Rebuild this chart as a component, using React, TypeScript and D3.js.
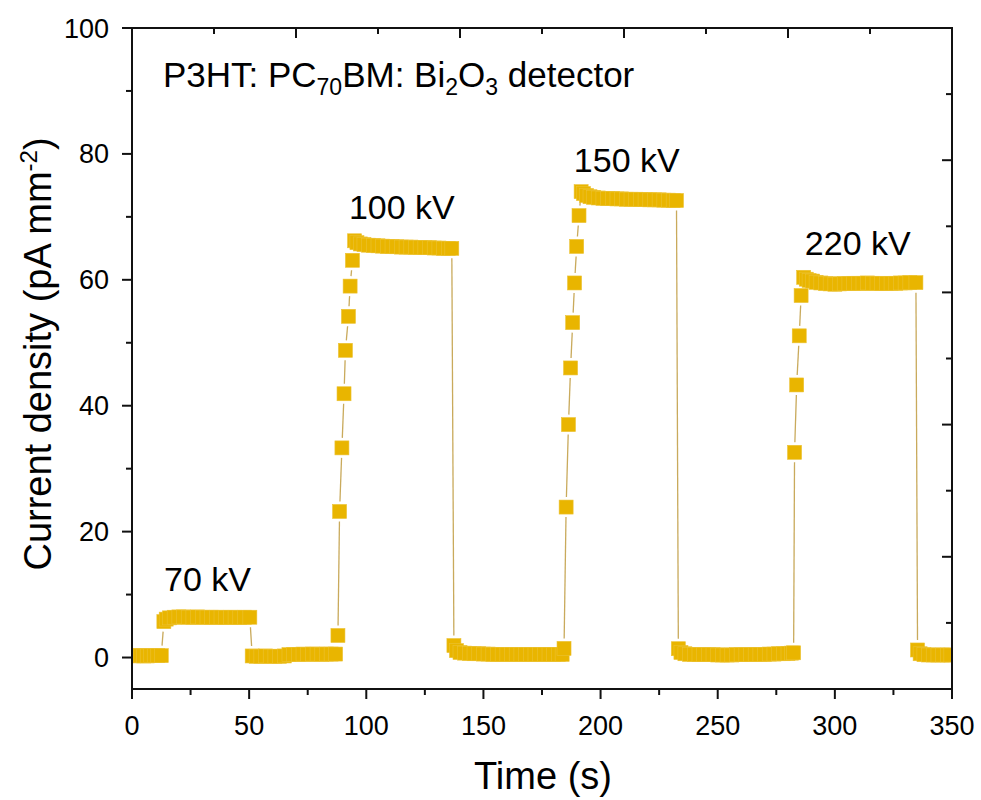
import React from 'react';
import * as d3 from 'd3';

// ---- data (time in s, current density in pA mm^-2) ----
const time = [
  0.5, 2, 3.5, 5, 6.5, 8, 9.5, 11, 12.5,
  13.6, 14.6, 16, 18, 20, 22, 24, 26, 28, 30, 32, 34, 36, 38, 40, 42, 44, 46, 48, 50.3,
  51.3, 53, 55, 57, 59, 61, 63, 65, 67, 69, 71, 73, 75, 77, 79, 81, 83, 85, 86.9,
  87.9, 88.6, 89.6, 90.5, 91.1, 92.4, 93.1, 94.1, 95.0,
  96, 97.5, 99, 101, 103, 105, 107, 109, 111, 113, 115, 117, 119, 121, 123, 125, 127, 129, 131, 133, 135, 136.5,
  137.4, 138.5, 140, 142, 144, 146, 148, 150, 152, 154, 156, 158, 160, 162, 164, 166, 168, 170, 172, 174, 176, 178, 180, 182, 183.6, 184.4,
  185.3, 186.3, 187.2, 188.1, 188.9, 189.8, 190.8, 191.7,
  192.7, 194, 195.5, 197, 199, 201, 203, 205, 207, 209, 211, 213, 215, 217, 219, 221, 223, 225, 227, 229, 231, 232.4,
  233.2, 234.3, 236, 238, 240, 242, 244, 246, 248, 250, 252, 254, 256, 258, 260, 262, 264, 266, 268, 270, 272, 274, 276, 278, 280, 281.5, 282.4,
  282.8, 283.7, 284.8, 285.6, 286.7,
  287.8, 289, 290.5, 292, 294, 296, 298, 300, 302, 304, 306, 308, 310, 312, 314, 316, 318, 320, 322, 324, 326, 328, 330, 332, 334.6,
  335.3, 336.4, 338, 340, 342, 344, 346, 348, 349.5,
];
const current = [
  0.25, 0.3, 0.3, 0.25, 0.25, 0.3, 0.3, 0.3, 0.3,
  5.7, 6.1, 6.3, 6.4, 6.45, 6.45, 6.4, 6.4, 6.45, 6.4, 6.4, 6.4, 6.4, 6.4, 6.35, 6.4, 6.4, 6.35, 6.4, 6.4,
  0.25, 0.2, 0.2, 0.25, 0.2, 0.2, 0.2, 0.25, 0.45, 0.5, 0.5, 0.55, 0.5, 0.55, 0.55, 0.5, 0.55, 0.55, 0.55,
  3.5, 23.2, 33.3, 41.9, 48.8, 54.2, 59.0, 63.1, 66.2,
  65.9, 65.7, 65.6, 65.5, 65.45, 65.4, 65.35, 65.3, 65.3, 65.25, 65.2, 65.2, 65.2, 65.15, 65.15, 65.1, 65.1, 65.05, 65.05, 65.0, 65.0, 65.0,
  1.9, 1.1, 0.8, 0.7, 0.65, 0.6, 0.6, 0.55, 0.55, 0.5, 0.5, 0.5, 0.5, 0.5, 0.5, 0.5, 0.5, 0.5, 0.5, 0.5, 0.5, 0.5, 0.5, 0.5, 0.5, 1.45,
  23.9, 37.0, 46.0, 53.2, 59.5, 65.3, 70.2, 74.0,
  73.7, 73.4, 73.2, 73.1, 73.0, 72.95, 72.9, 72.9, 72.85, 72.85, 72.8, 72.8, 72.8, 72.75, 72.75, 72.7, 72.7, 72.7, 72.65, 72.65, 72.6, 72.6,
  1.4, 0.8, 0.6, 0.5, 0.5, 0.45, 0.45, 0.45, 0.45, 0.4, 0.4, 0.4, 0.4, 0.45, 0.45, 0.45, 0.45, 0.5, 0.5, 0.5, 0.55, 0.55, 0.6, 0.6, 0.65, 0.7, 0.75,
  32.6, 43.3, 51.1, 57.5, 60.4,
  60.1, 59.9, 59.8, 59.6, 59.5, 59.4, 59.35, 59.3, 59.35, 59.4, 59.4, 59.45, 59.45, 59.45, 59.5, 59.45, 59.45, 59.4, 59.4, 59.45, 59.45, 59.5, 59.5, 59.55, 59.55,
  1.2, 0.6, 0.45, 0.4, 0.4, 0.4, 0.4, 0.4, 0.4,
];

const xMajorTicks = [0, 50, 100, 150, 200, 250, 300, 350];
const xMinorTicks = [25, 75, 125, 175, 225, 275, 325];
const yMajorTicks = [0, 20, 40, 60, 80, 100];
const yMinorTicks = [10, 30, 50, 70, 90];
const topMajorTicks = [70, 140, 210, 280];
const topMinorTicks = [35, 105, 175, 245, 315];
const rightMajorTicks = [20, 40, 60, 80];
const rightMinorTicks = [10, 30, 50, 70, 90];

const peakLabels = ['70 kV', '100 kV', '150 kV', '220 kV'];
const peakLabelT = [13.7, 92.6, 188.6, 287.2];
const peakLabelV = [10.6, 69.7, 77.2, 63.9];

const FONT = "'Liberation Sans', Arial, sans-serif";

export default function App() {
  const W = 981, H = 800;
  const L = 132, R = 952, T = 28, B = 689;
  const x = d3.scaleLinear().domain([0, 350]).range([L, R]);
  const y = d3.scaleLinear().domain([-5, 100]).range([B, T]);
  const yR = d3.scaleLinear().domain([0, 100]).range([B, T]);

  const pts: [number, number][] = time.map((t, i) => [x(t), y(current[i])]);
  const gap = 10;
  const line = d3.line();
  const segs: string[] = [];
  for (let i = 0; i < pts.length - 1; i++) {
    const [x1, y1] = pts[i];
    const [x2, y2] = pts[i + 1];
    const dx = x2 - x1, dy = y2 - y1;
    const d = Math.hypot(dx, dy);
    if (d > 2 * gap + 1) {
      const ux = dx / d, uy = dy / d;
      segs.push(line([[x1 + ux * gap, y1 + uy * gap], [x2 - ux * gap, y2 - uy * gap]]) as string);
    }
  }

  const MS = 14;
  const major = 10, minor = 6;
  const axisStroke = '#111';

  return (
    <svg width={W} height={H} style={{ position: 'absolute', left: 0, top: 0, background: '#fff' }} fontFamily={FONT}>
      <rect x={0} y={0} width={W} height={H} fill="#fff" />
      <defs>
        <clipPath id="plotclip">
          <rect x={L} y={T} width={R - L} height={B - T} />
        </clipPath>
      </defs>
      <g clipPath="url(#plotclip)">
        {segs.map((p, i) => (
          <path key={'s' + i} d={p} stroke="#c9aa5c" strokeWidth={1.3} fill="none" />
        ))}
        {pts.map(([px, py], i) => (
          <rect key={'m' + i} x={px - MS / 2} y={py - MS / 2} width={MS} height={MS} fill="#e9b500" stroke="#ecc232" strokeWidth={0.6} />
        ))}
      </g>

      {/* frame */}
      <rect x={L} y={T} width={R - L} height={B - T} fill="none" stroke={axisStroke} strokeWidth={2} />

      {/* bottom ticks */}
      {xMajorTicks.map((t) => (
        <g key={'xb' + t}>
          <line x1={x(t)} x2={x(t)} y1={B} y2={B + major} stroke={axisStroke} strokeWidth={2} />
          <text x={x(t)} y={B + 46} fontSize={27} textAnchor="middle" fill="#000">{t}</text>
        </g>
      ))}
      {xMinorTicks.map((t) => (
        <line key={'xbm' + t} x1={x(t)} x2={x(t)} y1={B} y2={B + minor} stroke={axisStroke} strokeWidth={2} />
      ))}
      {/* top ticks (inward) */}
      {topMajorTicks.map((t) => (
        <line key={'xt' + t} x1={x(t)} x2={x(t)} y1={T} y2={T + major} stroke={axisStroke} strokeWidth={2} />
      ))}
      {topMinorTicks.map((t) => (
        <line key={'xtm' + t} x1={x(t)} x2={x(t)} y1={T} y2={T + minor} stroke={axisStroke} strokeWidth={2} />
      ))}
      {/* left ticks */}
      {yMajorTicks.map((v) => (
        <g key={'yl' + v}>
          <line x1={L - major} x2={L} y1={y(v)} y2={y(v)} stroke={axisStroke} strokeWidth={2} />
          <text x={L - 23} y={y(v) + 9.5} fontSize={27} textAnchor="end" fill="#000">{v}</text>
        </g>
      ))}
      {yMinorTicks.map((v) => (
        <line key={'ylm' + v} x1={L - minor} x2={L} y1={y(v)} y2={y(v)} stroke={axisStroke} strokeWidth={2} />
      ))}
      {/* right ticks (inward) */}
      {rightMajorTicks.map((v) => (
        <line key={'yr' + v} x1={R - major} x2={R} y1={yR(v)} y2={yR(v)} stroke={axisStroke} strokeWidth={2} />
      ))}
      {rightMinorTicks.map((v) => (
        <line key={'yrm' + v} x1={R - minor} x2={R} y1={yR(v)} y2={yR(v)} stroke={axisStroke} strokeWidth={2} />
      ))}

      {/* axis titles */}
      <text x={(L + R) / 2 + 1} y={789} fontSize={38} textAnchor="middle" fill="#000">Time (s)</text>
      <text transform={`translate(51, 354) rotate(-90)`} fontSize={38} textAnchor="middle" fill="#000">
        Current density (pA mm<tspan dy={-14} fontSize={24}>-2</tspan><tspan dy={14}>)</tspan>
      </text>

      {/* in-plot title */}
      <text x={x(13.2)} y={y(90.6)} fontSize={35} fill="#000">
        P3HT: PC<tspan dy={8} fontSize={23}>70</tspan><tspan dy={-8}>BM: Bi</tspan><tspan dy={8} fontSize={23}>2</tspan><tspan dy={-8}>O</tspan><tspan dy={8} fontSize={23}>3</tspan><tspan dy={-8}> detector</tspan>
      </text>

      {peakLabels.map((lab, i) => (
        <text key={lab} x={x(peakLabelT[i])} y={y(peakLabelV[i])} fontSize={34} fill="#000">{lab}</text>
      ))}
    </svg>
  );
}
